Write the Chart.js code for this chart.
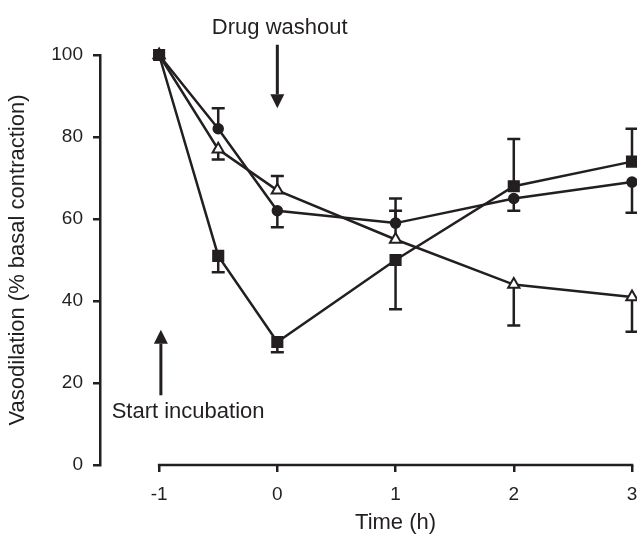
<!DOCTYPE html>
<html>
<head>
<meta charset="utf-8">
<script src="https://cdn.jsdelivr.net/npm/chart.js@4.4.1/dist/chart.umd.min.js"></script>
<style>
  html, body { margin: 0; padding: 0; background: #ffffff; }
  #wrap { width: 637px; height: 538px; }
</style>
</head>
<body>
<div id="wrap"><canvas id="c" width="637" height="538"></canvas></div>
<script>
// ---- Data ----
const times = [-1, -0.5, 0, 1, 2, 3];
const squareValues   = [100, 51, 30, 50, 68, 74];
const circleValues   = [100, 82, 62, 59, 65, 69];
const triangleValues = [100, 77, 67, 55, 44, 41];
// end value of each (one-sided) error bar; null = none
const squareErrEnd   = [null, 47, 27.5, 38, 79.5, 82];
const circleErrEnd   = [null, 87, 58, 65, 62, 61.5];
const triangleErrEnd = [null, 74.5, 70.5, 62, 34, 32.5];
const xTickValues = [-1, 0, 1, 2, 3];
const xTickLabels = ['-1', '0', '1', '2', '3'];
const yTickLabels = ['0', '20', '40', '60', '80', '100'];
const xTitle = 'Time (h)';
const yTitle = 'Vasodilation (% basal contraction)';
// annotations: arrows (from -> tip) and labels, in data units
const arrows = [
  { x: 0,      from: 102.5, to: 87 },
  { x: -0.985, from: 17,    to: 33 }
];
const labels = [
  { text: 'Drug washout',     x: 0.02,   y: 106.6 },
  { text: 'Start incubation', x: -0.755, y: 13.0 }
];

const INK = '#231f20';
const FONT = "'Liberation Sans', Arial, Helvetica, sans-serif";
const TEXT_SIZE = 22;
const TICK_SIZE = 19;

const toPts = (vals) => vals.map((v, i) => ({ x: times[i], y: v }));

const errorBarPlugin = {
  id: 'errorBars',
  beforeDatasetsDraw(chart) {
    const { ctx, scales: { x, y } } = chart;
    ctx.save();
    ctx.strokeStyle = INK;
    ctx.lineWidth = 2.5;
    ctx.lineCap = 'butt';
    chart.data.datasets.forEach((ds) => {
      if (!ds.errEnd) return;
      ds.data.forEach((p, i) => {
        const e = ds.errEnd[i];
        if (e === null || e === undefined) return;
        const px = x.getPixelForValue(p.x);
        const py = y.getPixelForValue(p.y);
        const pe = y.getPixelForValue(e);
        ctx.beginPath();
        ctx.moveTo(px, py);
        ctx.lineTo(px, pe);
        ctx.moveTo(px - 6.5, pe);
        ctx.lineTo(px + 6.5, pe);
        ctx.stroke();
      });
    });
    ctx.restore();
  }
};

const decorPlugin = {
  id: 'decor',
  afterDraw(chart) {
    const { ctx, scales: { x, y } } = chart;
    ctx.save();
    // x axis line (only across the tick range)
    ctx.strokeStyle = INK;
    ctx.lineWidth = 2.5;
    ctx.beginPath();
    const y0 = y.getPixelForValue(0);
    const xFirst = x.getPixelForValue(xTickValues[0]);
    const xLast = x.getPixelForValue(xTickValues[xTickValues.length - 1]);
    ctx.moveTo(xFirst - 1.25, y0);
    ctx.lineTo(xLast + 1.25, y0);
    ctx.stroke();
    // arrows
    ctx.fillStyle = INK;
    arrows.forEach((a) => {
      const px = x.getPixelForValue(a.x);
      const p1 = y.getPixelForValue(a.from);
      const p2 = y.getPixelForValue(a.to);
      const dir = Math.sign(p2 - p1);
      const head = 14;
      ctx.lineWidth = 3;
      ctx.beginPath();
      ctx.moveTo(px, p1);
      ctx.lineTo(px, p2 - dir * head);
      ctx.stroke();
      ctx.beginPath();
      ctx.moveTo(px, p2);
      ctx.lineTo(px - 7, p2 - dir * head);
      ctx.lineTo(px + 7, p2 - dir * head);
      ctx.closePath();
      ctx.fill();
    });
    // labels
    ctx.font = TEXT_SIZE + 'px ' + FONT;
    ctx.textAlign = 'center';
    ctx.textBaseline = 'middle';
    labels.forEach((l) => {
      ctx.fillText(l.text, x.getPixelForValue(l.x), y.getPixelForValue(l.y));
    });
    // x axis title, centred under the drawn axis range
    ctx.fillText(xTitle, (xFirst + xLast) / 2, x.bottom - 15);
    ctx.restore();
  }
};

const common = {
  borderColor: INK,
  borderWidth: 2.5,
  pointBorderColor: INK,
  pointBorderWidth: 1.5,
  clip: false,
  tension: 0
};

new Chart(document.getElementById('c'), {
  type: 'line',
  data: {
    datasets: [
      Object.assign({}, common, {
        label: 'squares',
        data: toPts(squareValues),
        errEnd: squareErrEnd,
        pointStyle: 'rect',
        pointRadius: 7.5,
        pointBackgroundColor: INK
      }),
      Object.assign({}, common, {
        label: 'circles',
        data: toPts(circleValues),
        errEnd: circleErrEnd,
        pointStyle: 'circle',
        pointRadius: 5,
        pointBackgroundColor: INK
      }),
      Object.assign({}, common, {
        label: 'triangles',
        data: toPts(triangleValues),
        errEnd: triangleErrEnd,
        pointStyle: 'triangle',
        pointRadius: 6.5,
        pointBorderWidth: 2,
        pointBackgroundColor: '#ffffff'
      })
    ]
  },
  options: {
    responsive: false,
    animation: false,
    events: [],
    layout: { autoPadding: false, padding: { top: 55, right: 5, bottom: 0, left: 0 } },
    plugins: { legend: { display: false }, tooltip: { enabled: false } },
    scales: {
      x: {
        type: 'linear',
        min: -1.5,
        max: 3,
        afterBuildTicks(scale) { scale.ticks = xTickValues.map(v => ({ value: v })); },
        afterFit(scale) { scale.height = 73; scale.paddingLeft = 0; scale.paddingRight = 0; },
        border: { display: false },
        grid: { drawOnChartArea: false, drawTicks: true, tickLength: 7, tickWidth: 2.5, tickColor: INK, lineWidth: 2.5, color: INK },
        ticks: {
          padding: 11,
          color: INK,
          font: { family: FONT, size: TICK_SIZE },
          maxRotation: 0,
          callback: (v) => { const i = xTickValues.indexOf(v); return i >= 0 ? xTickLabels[i] : ''; }
        },
        title: { display: false }
      },
      y: {
        type: 'linear',
        min: 0,
        max: 100,
        afterFit(scale) { scale.width = 100; },
        border: { display: true, color: INK, width: 2.5 },
        grid: { drawOnChartArea: false, drawTicks: true, tickLength: 7, tickWidth: 2.5, tickColor: INK, lineWidth: 2.5, color: INK },
        ticks: {
          stepSize: 20,
          padding: 10,
          color: INK,
          font: { family: FONT, size: TICK_SIZE },
          callback: (v) => yTickLabels[Math.round(v / 20)]
        },
        title: { display: true, text: yTitle, color: INK, font: { family: FONT, size: TEXT_SIZE }, padding: { top: 5, bottom: 0 } }
      }
    }
  },
  plugins: [errorBarPlugin, decorPlugin]
});
</script>
</body>
</html>
